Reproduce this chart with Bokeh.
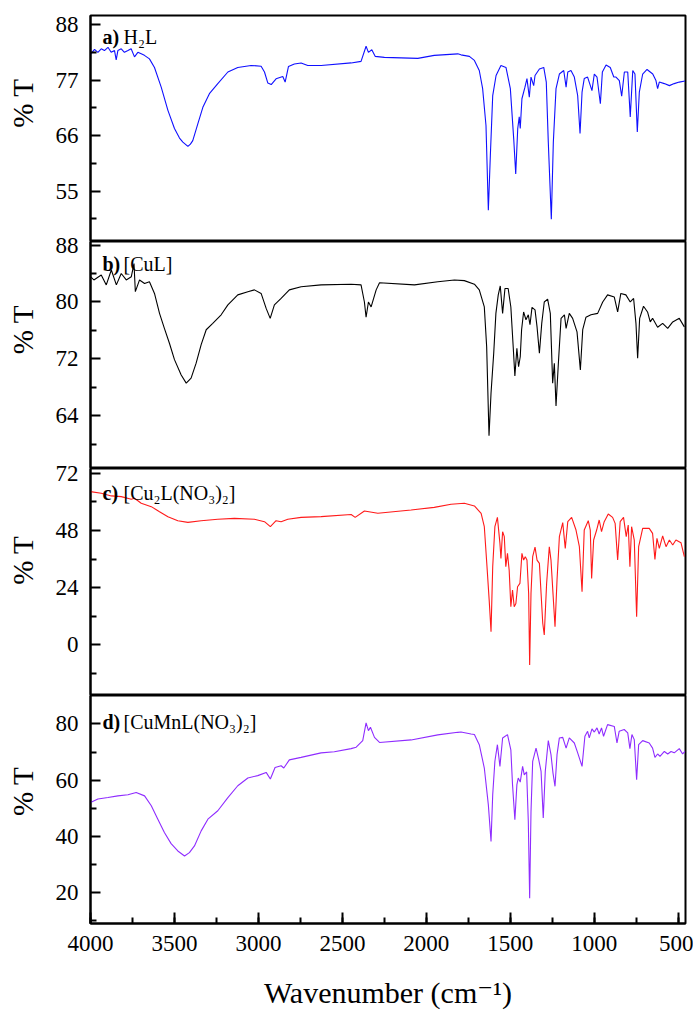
from bokeh.plotting import figure
from bokeh.layouts import column
from bokeh.models import Range1d, FixedTicker, SingleIntervalTicker, Label
from bokeh.embed import file_html
from bokeh.resources import INLINE

# ---------------- data (wavenumber cm-1, %T) ----------------
wn_a = [4000, 3976, 3956, 3936, 3917, 3896, 3877, 3857, 3847, 3837, 3817, 3798, 3777, 3758, 3738,
        3718, 3698, 3679, 3649, 3619, 3579, 3539, 3500, 3470, 3450, 3420, 3405, 3391, 3361, 3331,
        3292, 3242, 3182, 3123, 3044, 2984, 2964, 2944, 2924, 2895, 2855, 2841, 2821, 2786, 2746,
        2706, 2627, 2448, 2389, 2359, 2345, 2325, 2305, 2250, 2051, 1953, 1813, 1794, 1744, 1714,
        1685, 1665, 1645, 1631, 1619, 1605, 1585, 1556, 1526, 1500, 1480, 1468, 1456, 1447, 1441,
        1431, 1413, 1401, 1387, 1377, 1361, 1353, 1327, 1301, 1286, 1274, 1256, 1244, 1228, 1208,
        1182, 1168, 1158, 1139, 1119, 1099, 1085, 1073, 1060, 1040, 1014, 1000, 984, 964, 952,
        930, 905, 884, 871, 851, 837, 821, 801, 786, 771, 758, 744, 732, 712, 686,
        652, 633, 623, 613, 583, 553, 524, 494, 460]
t_a = [82.1, 83.1, 82.5, 83.2, 82.85, 83.5, 82.5, 82.85, 81.0, 82.85, 83.2, 82.5, 82.85, 83.2, 81.6,
       82.5, 82.2, 81.9, 81.2, 79.5, 75.6, 71.0, 67.4, 65.5, 64.7, 63.85, 64.3, 65.0, 68.3, 71.6,
       74.3, 76.3, 78.6, 79.5, 79.9, 79.75, 78.6, 76.4, 76.1, 77.25, 77.7, 76.6, 79.7, 80.2, 80.4,
       79.9, 79.9, 80.4, 80.7, 83.7, 82.5, 83.0, 81.7, 81.5, 81.3, 81.9, 82.2, 82.0, 81.7, 80.9,
       78.9, 75.3, 68.0, 51.2, 62.1, 73.9, 77.9, 79.9, 79.5, 75.3, 65.4, 58.4, 67.4, 69.7, 67.4,
       73.3, 75.6, 77.3, 73.6, 77.6, 75.9, 77.9, 79.2, 79.5, 76.6, 64.7, 49.4, 64.7, 75.3, 78.2,
       78.9, 75.6, 78.6, 78.9, 77.6, 73.9, 66.4, 74.6, 77.3, 77.6, 74.9, 78.2, 77.6, 72.3, 78.6,
       80.0, 79.5, 77.6, 77.6, 76.9, 73.8, 78.6, 78.6, 69.7, 78.9, 78.2, 66.7, 74.6, 78.2, 79.1,
       78.2, 76.9, 75.3, 76.6, 76.3, 75.9, 76.3, 76.6, 76.8]

wn_b = [4000, 3980, 3936, 3906, 3876, 3846, 3817, 3787, 3757, 3741, 3733, 3708, 3678, 3649, 3619,
        3589, 3560, 3530, 3500, 3460, 3430, 3401, 3371, 3341, 3311, 3272, 3222, 3182, 3123, 3063,
        3024, 2984, 2954, 2930, 2905, 2865, 2816, 2746, 2627, 2448, 2389, 2369, 2359, 2345, 2329,
        2299, 2279, 2071, 1932, 1833, 1774, 1714, 1685, 1655, 1641, 1627, 1615, 1599, 1586, 1572,
        1560, 1546, 1532, 1513, 1497, 1483, 1473, 1461, 1451, 1441, 1433, 1421, 1407, 1393, 1383,
        1371, 1353, 1341, 1327, 1313, 1298, 1278, 1262, 1248, 1238, 1228, 1214, 1198, 1178, 1168,
        1149, 1129, 1103, 1083, 1069, 1050, 1020, 980, 950, 921, 881, 861, 842, 812, 786,
        766, 752, 742, 730, 707, 683, 667, 653, 623, 593, 563, 533, 494, 464]
t_b = [83.55, 83.1, 83.8, 82.4, 84.5, 82.4, 84.0, 83.1, 83.55, 85.4, 81.45, 83.1, 82.6, 82.85, 81.2,
       78.4, 76.3, 74.2, 71.9, 69.75, 68.6, 69.3, 71.4, 74.0, 76.1, 77.0, 78.2, 79.6, 81.0, 81.45,
       81.7, 81.2, 79.1, 77.7, 79.6, 80.5, 81.7, 82.15, 82.4, 82.5, 82.4, 80.0, 77.85, 80.0, 79.3,
       81.7, 82.7, 82.4, 82.85, 83.1, 83.0, 82.5, 81.7, 79.3, 73.7, 61.2, 67.2, 72.8, 78.4, 81.0,
       82.25, 78.4, 81.9, 81.9, 79.3, 73.7, 69.6, 73.5, 70.9, 72.3, 76.1, 78.6, 77.5, 78.2, 76.8,
       79.25, 78.9, 76.5, 72.8, 77.0, 80.0, 80.4, 78.4, 68.6, 71.4, 65.4, 71.4, 77.7, 78.2, 76.3,
       78.4, 77.7, 75.8, 70.45, 76.1, 77.85, 78.2, 78.4, 80.0, 81.0, 80.7, 78.6, 81.2, 81.0, 80.0,
       80.5, 77.0, 72.1, 77.7, 79.4, 78.6, 77.2, 77.7, 76.45, 77.0, 76.3, 77.2, 77.7, 76.5]

wn_c = [4000, 3936, 3876, 3817, 3757, 3738, 3698, 3638, 3589, 3539, 3480, 3420, 3341, 3242, 3143,
        3024, 2964, 2929, 2895, 2865, 2825, 2746, 2627, 2448, 2424, 2369, 2289, 2091, 1953, 1853,
        1774, 1714, 1674, 1655, 1639, 1626, 1615, 1605, 1592, 1577, 1562, 1556, 1546, 1536, 1527,
        1517, 1507, 1497, 1487, 1477, 1467, 1457, 1443, 1431, 1421, 1411, 1401, 1391, 1385, 1377,
        1367, 1353, 1341, 1327, 1317, 1307, 1298, 1284, 1268, 1258, 1246, 1234, 1222, 1208, 1188,
        1173, 1158, 1135, 1109, 1089, 1073, 1060, 1036, 1024, 1016, 1004, 986, 971, 957, 941,
        917, 891, 876, 861, 846, 826, 810, 798, 788, 778, 762, 748, 736, 712, 673,
        653, 639, 627, 613, 593, 573, 553, 533, 514, 484, 464]
t_c = [64.3, 63.6, 62.5, 62.2, 61.1, 61.5, 59.4, 58.0, 55.9, 53.8, 52.1, 51.4, 52.1, 52.7, 53.1,
       52.7, 51.7, 49.6, 52.1, 51.7, 52.7, 53.5, 53.8, 54.7, 53.5, 56.2, 55.2, 56.6, 57.7, 59.0,
       59.4, 58.3, 55.2, 49.6, 32.8, 18.8, 5.5, 32.8, 49.6, 53.5, 42.6, 36.3, 47.5, 45.4, 32.8,
       38.4, 31.4, 16.0, 23.0, 16.0, 17.4, 24.4, 25.8, 38.4, 35.6, 37.0, 35.6, 21.6, -8.4, 21.6,
       37.0, 41.0, 35.6, 34.2, 21.6, 9.1, 4.15, 25.8, 41.2, 35.6, 21.6, 7.6, 27.2, 45.4, 51.3,
       40.5, 51.7, 53.5, 48.2, 41.2, 22.3, 48.2, 52.1, 48.2, 27.9, 44.0, 48.2, 52.4, 47.5, 51.7,
       54.9, 53.5, 51.0, 35.6, 51.7, 53.5, 45.4, 50.3, 32.8, 49.6, 44.0, 11.8, 41.2, 48.9, 48.9,
       46.8, 35.9, 44.7, 40.5, 45.7, 41.2, 44.0, 41.9, 44.0, 42.9, 37.0]

wn_d = [4000, 3956, 3896, 3837, 3777, 3728, 3678, 3638, 3599, 3560, 3520, 3480, 3440, 3411, 3381,
        3341, 3301, 3242, 3182, 3123, 3063, 3004, 2954, 2929, 2901, 2865, 2849, 2816, 2746, 2627,
        2548, 2448, 2418, 2379, 2359, 2345, 2333, 2309, 2279, 2091, 1932, 1813, 1794, 1734, 1714,
        1685, 1655, 1631, 1615, 1605, 1592, 1577, 1562, 1546, 1517, 1497, 1487, 1473, 1461, 1453,
        1441, 1427, 1417, 1403, 1393, 1385, 1377, 1367, 1347, 1331, 1317, 1304, 1292, 1274, 1258,
        1246, 1234, 1222, 1208, 1188, 1168, 1149, 1119, 1099, 1073, 1056, 1040, 1030, 1014, 1000,
        984, 971, 957, 945, 921, 881, 865, 852, 822, 801, 788, 776, 762, 748, 736,
        712, 673, 653, 639, 623, 609, 583, 563, 543, 524, 494, 474, 460]
t_d = [52.05, 53.3, 53.8, 54.4, 54.8, 55.6, 54.4, 50.9, 46.1, 41.35, 37.4, 34.8, 33.0, 34.2, 36.6,
       41.95, 46.1, 49.1, 53.8, 58.0, 60.75, 61.6, 62.75, 60.4, 64.5, 65.1, 64.3, 67.2, 68.1, 69.7,
       70.1, 71.2, 71.7, 74.05, 80.35, 77.6, 78.8, 75.2, 73.4, 74.3, 76.1, 77.0, 77.1, 76.4, 76.2,
       72.6, 64.3, 51.2, 38.15, 54.8, 66.7, 72.6, 64.9, 75.0, 76.2, 70.8, 58.4, 45.9, 58.4, 60.75,
       59.3, 64.9, 61.9, 62.9, 45.3, 18.0, 48.8, 66.7, 71.4, 67.3, 63.1, 46.5, 63.1, 74.05, 69.05,
       62.5, 57.8, 69.05, 75.0, 75.2, 71.4, 75.0, 73.2, 69.7, 64.9, 75.6, 77.35, 75.0, 78.2, 77.1,
       78.6, 76.4, 78.6, 75.6, 79.75, 79.1, 73.2, 77.35, 78.0, 76.8, 71.2, 76.2, 74.4, 60.1, 72.6,
       74.05, 73.2, 71.4, 68.1, 69.3, 68.45, 70.2, 69.3, 70.2, 69.7, 71.2, 69.3, 70.2]

panel_tags = ["a)", "b)", "c)", "d)"]
panel_names = ["H\u2082L", "[CuL]", "[Cu\u2082L(NO\u2083)\u2082]", "[CuMnL(NO\u2083)\u2082]"]
y_limits = [(45.0, 89.8), (56.6, 88.5), (-21.2, 74.0), (9.0, 90.1)]
y_major = [[55, 66, 77, 88], [64, 72, 80, 88], [0, 24, 48, 72], [20, 40, 60, 80]]
y_minor = [[49.5, 60.5, 71.5, 82.5], [60, 68, 76, 84], [-12, 12, 36, 60], [10, 30, 50, 70]]
colors = ["#1010ff", "#000000", "#ff1a1a", "#8f2cff"]
x_limits = (4000, 457)

SERIF = "Liberation Serif, DejaVu Serif, serif"

series = [(wn_a, t_a), (wn_b, t_b), (wn_c, t_c), (wn_d, t_d)]
frame_h = [226, 227, 227, 228]
label_dy = [-21, -22, -24, -26]
ylab_pad = [7, 7, 6, 5]

xr = Range1d(*x_limits)
figs = []
OV = 12
for i in range(4):
    last = i == 3
    top = 15 if i == 0 else OV
    p = figure(frame_width=595, frame_height=frame_h[i],
               x_range=xr, y_range=Range1d(*y_limits[i]),
               output_backend="svg", toolbar_location=None,
               min_border_left=90, min_border_right=8,
               min_border_top=top, min_border_bottom=(88 if last else 0),
               background_fill_alpha=0, border_fill_alpha=0,
               outline_line_color="black", outline_line_width=2,
               margin=(0 if i == 0 else -OV, 0, 0, 0))
    p.xgrid.grid_line_color = None
    p.ygrid.grid_line_color = None
    w, t = series[i]
    p.line(w, t, line_color=colors[i], line_width=1.1)

    p.yaxis.ticker = FixedTicker(ticks=y_major[i], minor_ticks=y_minor[i])
    p.yaxis.axis_label = "\u00a0" * ylab_pad[i] + "% T"
    p.yaxis.axis_label_text_font = SERIF
    p.yaxis.axis_label_text_font_size = "29px"
    p.yaxis.axis_label_text_font_style = "normal"
    p.yaxis.axis_label_text_color = "black"
    p.yaxis.axis_label_standoff = 14
    p.yaxis.major_label_text_font = SERIF
    p.yaxis.major_label_text_font_size = "23px"
    p.yaxis.major_label_text_color = "black"
    p.yaxis.major_label_standoff = 12
    p.yaxis.axis_line_width = 2
    p.yaxis.major_tick_in = 10
    p.yaxis.major_tick_out = 0
    p.yaxis.minor_tick_in = 6
    p.yaxis.minor_tick_out = 0
    p.yaxis.major_tick_line_width = 2
    p.yaxis.minor_tick_line_width = 2

    if last:
        p.xaxis.ticker = SingleIntervalTicker(interval=500, num_minor_ticks=2)
        p.xaxis.axis_label = "Wavenumber (cm\u207b\u00b9)"
        p.xaxis.axis_label_text_font = SERIF
        p.xaxis.axis_label_text_font_size = "30px"
        p.xaxis.axis_label_text_font_style = "normal"
        p.xaxis.axis_label_text_color = "black"
        p.xaxis.axis_label_standoff = 22
        p.xaxis.major_label_text_font = SERIF
        p.xaxis.major_label_text_font_size = "23px"
        p.xaxis.major_label_text_color = "black"
        p.xaxis.major_label_standoff = 12
        p.xaxis.axis_line_width = 2
        p.xaxis.major_tick_in = 11
        p.xaxis.major_tick_out = 0
        p.xaxis.minor_tick_in = 6
        p.xaxis.minor_tick_out = 0
        p.xaxis.major_tick_line_width = 2
        p.xaxis.minor_tick_line_width = 2
    else:
        p.xaxis.visible = False

    p.add_layout(Label(x=x_limits[0], y=y_limits[i][1], x_offset=12, y_offset=label_dy[i],
                       text=panel_tags[i], text_font=SERIF, text_font_size="20px",
                       text_font_style="bold", text_color="black", text_baseline="alphabetic"))
    p.add_layout(Label(x=x_limits[0], y=y_limits[i][1], x_offset=33, y_offset=label_dy[i],
                       text=panel_names[i], text_font=SERIF, text_font_size="20px",
                       text_color="black", text_baseline="alphabetic"))
    figs.append(p)

layout = column(*figs, spacing=0)
open("out.html", "w").write(file_html(layout, INLINE))
